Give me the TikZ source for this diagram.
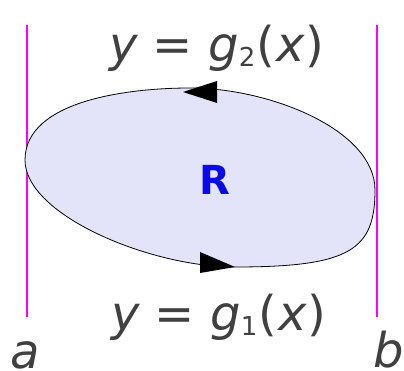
\documentclass[tikz,border=0pt]{standalone}
\usepackage{fontspec}
\setmainfont{DejaVu Sans}
\definecolor{txt}{HTML}{404040}
\definecolor{regfill}{HTML}{E3E3FA}
\definecolor{rblue}{HTML}{0A0AE6}
\definecolor{bcol}{HTML}{FF00FF}
\tikzset{
  lbl/.style={inner sep=0pt, anchor=base west, text=txt, font=\fontsize{48}{48}\selectfont},
  bound/.style={draw=bcol, line width=1.1pt},
  tip/.style={fill=black, draw=none}
}
\newcommand{\gsub}[1]{\itshape y\upshape{} = \itshape g\upshape\raisebox{-5pt}{\fontsize{26}{26}\selectfont #1}\kern1pt(\kern1pt\itshape x\upshape\kern1pt)}
\begin{document}
\begin{tikzpicture}[x=1pt,y=-1pt]
\useasboundingbox (0,0) rectangle (404,371);
\draw[bound] (27,25) -- (27,317);
\draw[bound] (377,25) -- (377,317);
\filldraw[fill=regfill, draw=black, line width=0.8pt]
  (25,160) .. controls (25,100) and (130,88) .. (190,88)
  .. controls (270,88) and (375,130) .. (375,190)
  .. controls (375,250) and (350,267) .. (235,267)
  .. controls (150,267) and (25,215) .. (25,160) -- cycle;
\fill[tip] (183,92) -- (217,81) -- (217,103) -- cycle;
\fill[tip] (235,267) -- (200,252) -- (200,273) -- cycle;
\node[lbl] (top) at (109,62) {\gsub{2}};
\node[lbl] (bot) at (111,330) {\gsub{1}};
\node[lbl] (a) at (10,368) {\itshape a};
\node[lbl] (b) at (373,367) {\itshape b};
\node[inner sep=0pt, text=rblue, font=\fontsize{40}{40}\selectfont\bfseries] (R) at (215,180) {R};
\end{tikzpicture}
\end{document}
